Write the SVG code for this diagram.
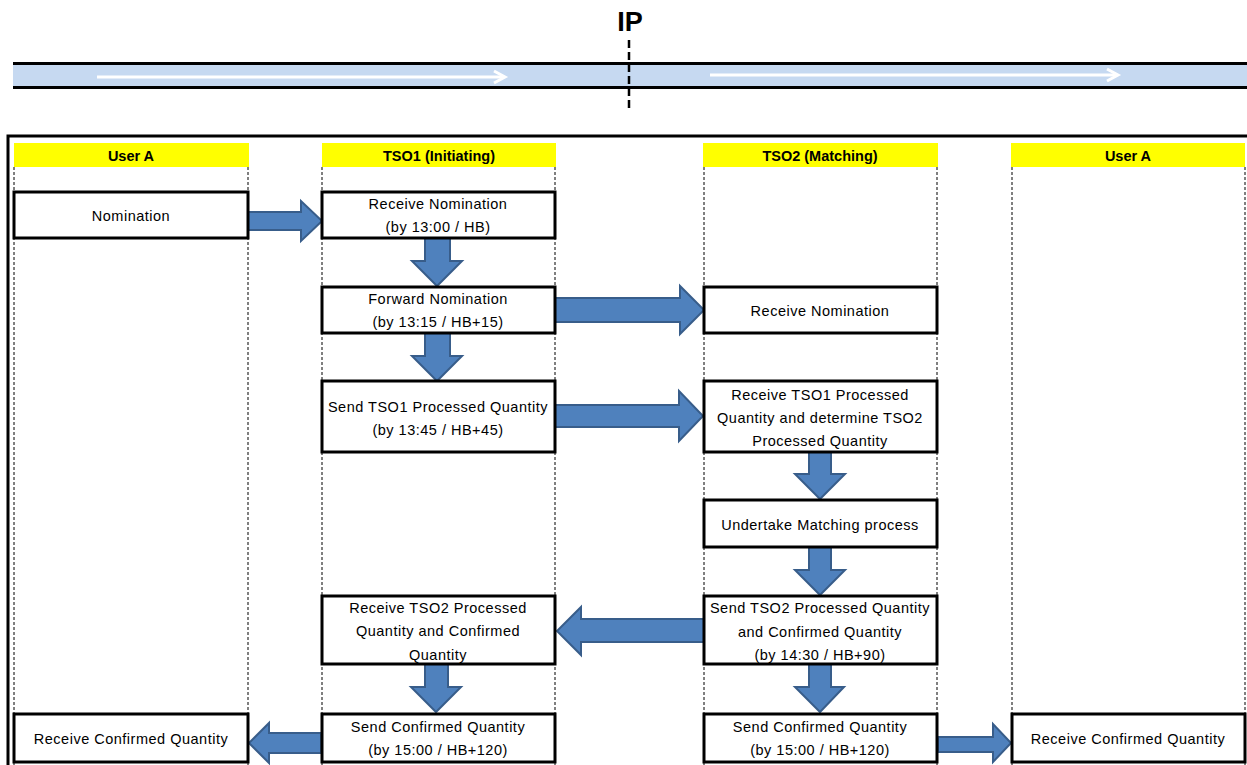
<svg xmlns="http://www.w3.org/2000/svg" width="1247" height="765" viewBox="0 0 1247 765">
<defs>
<style>
.hdr{fill:#FFFF00}
.hdt{font-family:"Liberation Sans",Arial,sans-serif;font-weight:bold;font-size:14.5px;fill:#000;text-anchor:middle}
.lane{stroke:#000;stroke-width:1;stroke-dasharray:3 2;fill:none}
.box{fill:#fff;stroke:#000;stroke-width:3}
.t{font-family:"Liberation Sans",Arial,sans-serif;font-size:14.5px;letter-spacing:0.5px;fill:#000;text-anchor:middle}
.arr{fill:#4F81BD;stroke:#385D8A;stroke-width:2;stroke-linejoin:miter}
.pipe{stroke:#000;stroke-width:3}
.flow{stroke:#fff;stroke-width:3;fill:none}
</style>
</defs>
<rect width="1247" height="765" fill="#fff"/>
<g id="pipeline">
<rect x="13" y="64" width="1240" height="24" fill="#C6D9F1"/>
<line class="pipe" x1="13" y1="63.5" x2="1250" y2="63.5"/>
<line class="pipe" x1="13" y1="87.5" x2="1250" y2="87.5"/>
<line class="flow" x1="97" y1="77" x2="504" y2="77"/>
<polyline class="flow" points="494,71 505,77 494,83"/>
<line class="flow" x1="710" y1="75" x2="1117" y2="75"/>
<polyline class="flow" points="1107,69 1118,75 1107,81"/>
<line x1="629" y1="40" x2="629" y2="112" stroke="#000" stroke-width="2.5" stroke-dasharray="8 4"/>
<text x="630" y="31" font-family="Liberation Sans,Arial,sans-serif" font-weight="bold" font-size="27" text-anchor="middle">IP</text>
</g>
<rect x="8" y="136" width="1250" height="640" fill="none" stroke="#000" stroke-width="3"/>
<g id="lanes">
<rect class="hdr" x="14" y="143" width="235" height="24"/>
<rect class="hdr" x="322" y="143" width="234" height="24"/>
<rect class="hdr" x="703" y="143" width="235" height="24"/>
<rect class="hdr" x="1011" y="143" width="234" height="24"/>
<text class="hdt" x="131" y="161">User A</text>
<text class="hdt" x="439" y="161">TSO1 (Initiating)</text>
<text class="hdt" x="820" y="161">TSO2 (Matching)</text>
<text class="hdt" x="1128" y="161">User A</text>
<line class="lane" x1="14" y1="167" x2="14" y2="765"/>
<line class="lane" x1="248" y1="167" x2="248" y2="765"/>
<line class="lane" x1="322" y1="167" x2="322" y2="765"/>
<line class="lane" x1="555" y1="167" x2="555" y2="765"/>
<line class="lane" x1="704" y1="167" x2="704" y2="765"/>
<line class="lane" x1="937" y1="167" x2="937" y2="765"/>
<line class="lane" x1="1012" y1="167" x2="1012" y2="765"/>
<line class="lane" x1="1245" y1="167" x2="1245" y2="765"/>
</g>
<g id="connectors">
<path class="arr" d="M248,212 H301 V201 L322,221 L301,241 V230 H248 Z"/>
<path class="arr" d="M425,238 H450 V261 H462 L437,286 L412,261 H425 Z"/>
<path class="arr" d="M555,298 H680 V286 L704,310 L680,334 V322 H555 Z"/>
<path class="arr" d="M425,333 H450 V356 H462 L437,381 L412,356 H425 Z"/>
<path class="arr" d="M555,405 H679 V391 L703,416 L679,441 V427 H555 Z"/>
<path class="arr" d="M809,452 H831 V474 H845 L820,499 L795,474 H809 Z"/>
<path class="arr" d="M809,547 H831 V570 H845 L820,595 L795,570 H809 Z"/>
<path class="arr" d="M704,619 H581 V607 L557,631 L581,655 V642 H704 Z"/>
<path class="arr" d="M425,664 H448 V687 H461 L436,712 L411,687 H425 Z"/>
<path class="arr" d="M809,664 H831 V687 H844 L820,712 L795,687 H809 Z"/>
<path class="arr" d="M321,733 H269 V723 L249,743 L269,763 V753 H321 Z"/>
<path class="arr" d="M938,737 H993 V724 L1011,743 L993,762 V752 H938 Z"/>
</g>
<g id="n1"><rect class="box" x="14" y="192" width="234" height="46"/><text class="t" x="131" y="221">Nomination</text></g>
<g id="n2"><rect class="box" x="322" y="192" width="233" height="46"/><text class="t" x="438" y="209">Receive Nomination</text><text class="t" x="438" y="232">(by 13:00 / HB)</text></g>
<g id="n3"><rect class="box" x="322" y="287" width="233" height="46"/><text class="t" x="438" y="304">Forward Nomination</text><text class="t" x="438" y="327">(by 13:15 / HB+15)</text></g>
<g id="n4"><rect class="box" x="704" y="287" width="233" height="46"/><text class="t" x="820" y="316">Receive Nomination</text></g>
<g id="n5"><rect class="box" x="322" y="381" width="233" height="71"/><text class="t" x="438" y="412">Send TSO1 Processed Quantity</text><text class="t" x="438" y="435">(by 13:45 / HB+45)</text></g>
<g id="n6"><rect class="box" x="704" y="381" width="233" height="71"/><text class="t" x="820" y="400">Receive TSO1 Processed</text><text class="t" x="820" y="423">Quantity and determine TSO2</text><text class="t" x="820" y="446">Processed Quantity</text></g>
<g id="n7"><rect class="box" x="704" y="500" width="233" height="47"/><text class="t" x="820" y="530">Undertake Matching process</text></g>
<g id="n8"><rect class="box" x="322" y="596" width="233" height="68"/><text class="t" x="438" y="613">Receive TSO2 Processed</text><text class="t" x="438" y="636">Quantity and Confirmed</text><text class="t" x="438" y="660">Quantity</text></g>
<g id="n9"><rect class="box" x="704" y="596" width="233" height="68"/><text class="t" x="820" y="613">Send TSO2 Processed Quantity</text><text class="t" x="820" y="637">and Confirmed Quantity</text><text class="t" x="820" y="660">(by 14:30 / HB+90)</text></g>
<g id="n10"><rect class="box" x="14" y="714" width="234" height="48"/><text class="t" x="131" y="744">Receive Confirmed Quantity</text></g>
<g id="n11"><rect class="box" x="322" y="714" width="233" height="48"/><text class="t" x="438" y="732">Send Confirmed Quantity</text><text class="t" x="438" y="755">(by 15:00 / HB+120)</text></g>
<g id="n12"><rect class="box" x="704" y="714" width="233" height="48"/><text class="t" x="820" y="732">Send Confirmed Quantity</text><text class="t" x="820" y="755">(by 15:00 / HB+120)</text></g>
<g id="n13"><rect class="box" x="1012" y="714" width="233" height="48"/><text class="t" x="1128" y="744">Receive Confirmed Quantity</text></g>
</svg>
